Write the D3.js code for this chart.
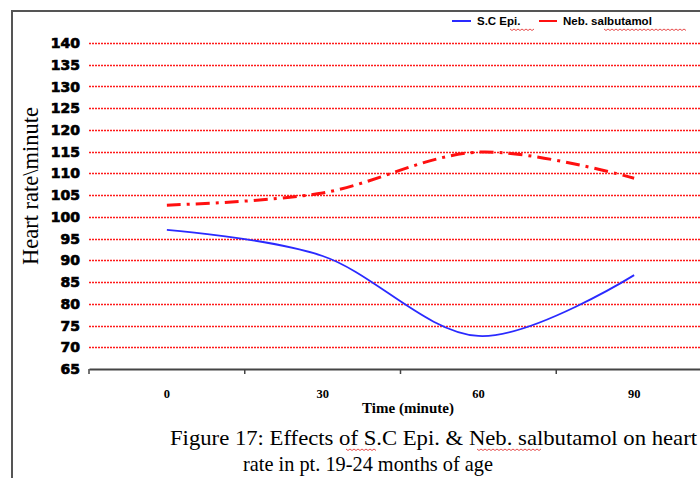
<!doctype html>
<html>
<head>
<style>
  body { margin: 0; background: #fff; }
  svg { display: block; }
  .ytick { font-family: "DejaVu Sans", Arial, sans-serif; font-weight: bold; font-size: 14px; fill: #000; stroke: #000; stroke-width: 0.7px; }
  .xtick { font-family: "Liberation Serif", "Times New Roman", serif; font-weight: bold; font-size: 12.5px; fill: #000; }
  .serif { font-family: "Liberation Serif", "Times New Roman", serif; fill: #000; }
  .legend { font-family: "Liberation Sans", Arial, sans-serif; font-weight: bold; font-size: 11.5px; fill: #000; }
</style>
<script src="https://cdn.jsdelivr.net/npm/d3@7"></script>
</head>
<body>
<svg width="700" height="478" id="chart"></svg>
<script>
// data
var times = ["0", "30", "60", "90"];
var scEpi = [97, 91, 72.6, 86.6];
var nebSalbutamol = [102.7, 105.5, 114.9, 108.9];
var yTicks = [65, 70, 75, 80, 85, 90, 95, 100, 105, 110, 115, 120, 125, 130, 135, 140];

var svg = d3.select("#chart");

// outer frame (runs off the page to the right and bottom)
svg.append("rect")
   .attr("x", 12).attr("y", 11)
   .attr("width", 720).attr("height", 500)
   .attr("fill", "none")
   .attr("stroke", "#555")
   .attr("stroke-width", 2);

var plotLeft = 89, plotRight = 712, plotTop = 43, plotBottom = 369;

var x = d3.scaleBand().domain(times).range([plotLeft, plotRight]);
var y = d3.scaleLinear().domain([65, 140]).range([plotBottom, plotTop]);

// gridlines
svg.append("g")
   .selectAll("line")
   .data(yTicks.filter(function(d) { return d > 65; }))
   .enter().append("line")
   .attr("x1", plotLeft).attr("x2", 700)
   .attr("y1", function(d) { return Math.round(y(d)) + 0.5; })
   .attr("y2", function(d) { return Math.round(y(d)) + 0.5; })
   .attr("stroke", "#ff1a1a")
   .attr("stroke-width", 1.6)
   .attr("stroke-dasharray", "2,1");

// y tick labels
svg.append("g")
   .selectAll("text")
   .data(yTicks)
   .enter().append("text")
   .attr("class", "ytick")
   .attr("x", 80)
   .attr("y", function(d) { return y(d); })
   .attr("dy", "0.36em")
   .attr("text-anchor", "end")
   .text(function(d) { return d; });

// x axis with ticks between categories
var xAxis = svg.append("g")
   .attr("transform", "translate(0," + plotBottom + ")")
   .call(d3.axisBottom(x).tickSize(0).tickFormat(""));
xAxis.select(".domain").attr("stroke", "#444").attr("stroke-width", 2);
xAxis.selectAll(".tick").remove();

xAxis.selectAll(".sep")
   .data(times)
   .enter().append("line")
   .attr("class", "sep")
   .attr("x1", function(d) { return x(d); })
   .attr("x2", function(d) { return x(d); })
   .attr("y1", 0).attr("y2", 5)
   .attr("stroke", "#444").attr("stroke-width", 1.5);

svg.append("g")
   .selectAll("text")
   .data(times)
   .enter().append("text")
   .attr("class", "xtick")
   .attr("x", function(d) { return x(d) + x.bandwidth() / 2; })
   .attr("y", 398)
   .attr("text-anchor", "middle")
   .text(function(d) { return d; });

// axis titles
svg.append("text")
   .attr("class", "serif")
   .attr("transform", "translate(38,186) rotate(-90)")
   .attr("text-anchor", "middle")
   .attr("font-size", "22.5px")
   .text("Heart rate\\minute");

svg.append("text")
   .attr("class", "serif")
   .attr("x", 408).attr("y", 413)
   .attr("text-anchor", "middle")
   .attr("font-size", "15px")
   .attr("font-weight", "bold")
   .text("Time (minute)");

// lines
var line = d3.line()
   .x(function(d, i) { return x(times[i]) + x.bandwidth() / 2; })
   .y(function(d) { return y(d); })
   .curve(d3.curveCatmullRom.alpha(0));

svg.append("path")
   .datum(nebSalbutamol)
   .attr("d", line)
   .attr("fill", "none")
   .attr("stroke", "#ff1010")
   .attr("stroke-width", 3)
   .attr("stroke-dasharray", "14,6,3,6");

svg.append("path")
   .datum(scEpi)
   .attr("d", line)
   .attr("fill", "none")
   .attr("stroke", "#2a2aff")
   .attr("stroke-width", 1.8);

// red spell-check squiggle
function squiggle(x0, x1, yy) {
  var pts = [];
  for (var i = 0; x0 + i * 2 <= x1; i++) pts.push([x0 + i * 2, yy + (i % 2 ? 1.5 : 0)]);
  svg.append("path")
     .attr("d", d3.line()(pts))
     .attr("fill", "none")
     .attr("stroke", "#e02020")
     .attr("stroke-width", 0.8);
}

// legend
var legend = svg.append("g");
legend.append("line").attr("x1", 452).attr("x2", 471).attr("y1", 21).attr("y2", 21)
   .attr("stroke", "#2a2aff").attr("stroke-width", 2);
legend.append("text").attr("class", "legend").attr("x", 477).attr("y", 25).text("S.C Epi.");
legend.append("line").attr("x1", 539).attr("x2", 557).attr("y1", 21).attr("y2", 21)
   .attr("stroke", "#ff1010").attr("stroke-width", 2);
legend.append("text").attr("class", "legend").attr("x", 563).attr("y", 25).text("Neb. salbutamol");
squiggle(510, 534, 29);
squiggle(604, 686, 29);

// caption
svg.append("text")
   .attr("class", "serif")
   .attr("x", 170).attr("y", 445)
   .attr("font-size", "21.5px")
   .attr("textLength", 527)
   .attr("lengthAdjust", "spacingAndGlyphs")
   .text("Figure 17: Effects of S.C Epi. & Neb. salbutamol  on heart");
svg.append("text")
   .attr("class", "serif")
   .attr("x", 243).attr("y", 471)
   .attr("font-size", "21.5px")
   .attr("textLength", 250)
   .attr("lengthAdjust", "spacingAndGlyphs")
   .text("rate in pt. 19-24 months of age");
squiggle(346, 376, 449);
squiggle(477, 542, 449);
</script>
</body>
</html>
